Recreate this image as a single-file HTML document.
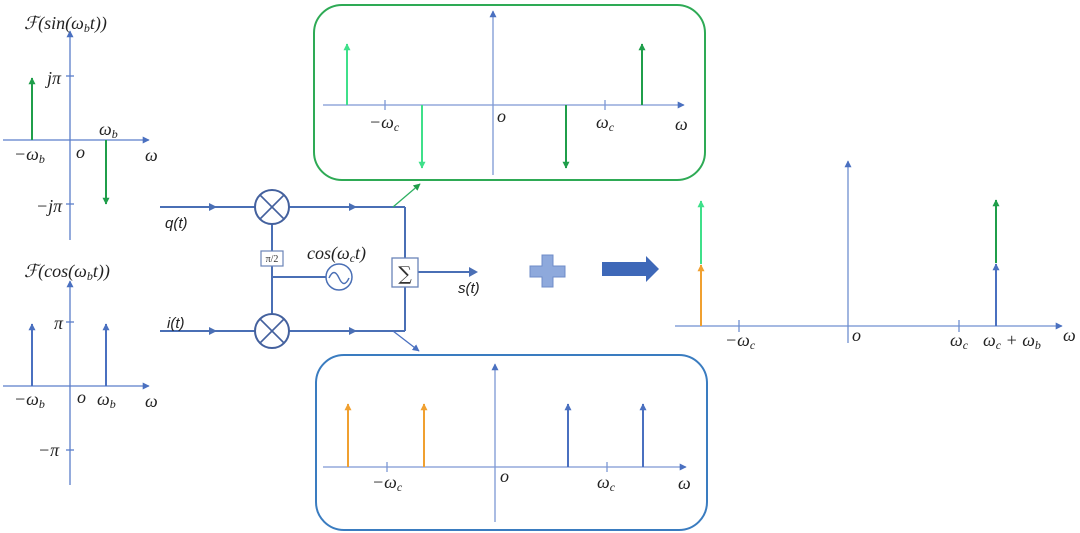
<!DOCTYPE html>
<html><head><meta charset="utf-8"><style>
html,body{margin:0;padding:0;background:#fff;}
svg{display:block;}
.m{font-family:"Liberation Serif","DejaVu Serif",serif;font-style:italic;font-size:18px;fill:#222;}
.s{font-family:"Liberation Sans","DejaVu Sans",sans-serif;font-style:italic;font-size:15px;fill:#222;}
.sub{font-size:12px;}
</style></head><body>
<svg width="1080" height="533" viewBox="0 0 1080 533" xmlns="http://www.w3.org/2000/svg">
<defs>
<marker id="ab" viewBox="0 0 10 10" refX="9" refY="5" markerWidth="7" markerHeight="7" markerUnits="userSpaceOnUse" orient="auto"><path d="M0,0L10,5L0,10z" fill="#4a70c0"/></marker>
<marker id="ag" viewBox="0 0 10 10" refX="9" refY="5" markerWidth="7" markerHeight="7" markerUnits="userSpaceOnUse" orient="auto"><path d="M0,0L10,5L0,10z" fill="#1f9e4a"/></marker>
<marker id="alg" viewBox="0 0 10 10" refX="9" refY="5" markerWidth="7" markerHeight="7" markerUnits="userSpaceOnUse" orient="auto"><path d="M0,0L10,5L0,10z" fill="#3fe08a"/></marker>
<marker id="ao" viewBox="0 0 10 10" refX="9" refY="5" markerWidth="7" markerHeight="7" markerUnits="userSpaceOnUse" orient="auto"><path d="M0,0L10,5L0,10z" fill="#f0a030"/></marker>
</defs>

<!-- Left top plot -->
<g stroke="#5b7ec9" stroke-width="1.3" fill="none">
<line x1="70" y1="240" x2="70" y2="31" marker-end="url(#ab)"/>
<line x1="3" y1="140" x2="149" y2="140" marker-end="url(#ab)"/>
<line x1="66" y1="76" x2="74" y2="76"/>
<line x1="66" y1="204" x2="74" y2="204"/>
</g>
<g stroke="#1f9e4a" stroke-width="2">
<line x1="32" y1="140" x2="32" y2="78" marker-end="url(#ag)"/>
<line x1="106" y1="140" x2="106" y2="204" marker-end="url(#ag)"/>
</g>
<text class="m" x="24" y="29">ℱ(sin(ω<tspan class="sub" dy="3">b</tspan><tspan dy="-3">t))</tspan></text>
<text class="m" x="47" y="84">jπ</text>
<text class="m" x="99" y="135">ω<tspan class="sub" dy="3">b</tspan></text>
<text class="m" x="14" y="160">−ω<tspan class="sub" dy="3">b</tspan></text>
<text class="m" x="76" y="158">o</text>
<text class="m" x="145" y="161">ω</text>
<text class="m" x="36" y="212">−jπ</text>

<!-- Left bottom plot -->
<g stroke="#5b7ec9" stroke-width="1.3" fill="none">
<line x1="70" y1="485" x2="70" y2="281" marker-end="url(#ab)"/>
<line x1="3" y1="386" x2="149" y2="386" marker-end="url(#ab)"/>
<line x1="66" y1="322" x2="74" y2="322"/>
<line x1="66" y1="450" x2="74" y2="450"/>
</g>
<g stroke="#4a70c0" stroke-width="2">
<line x1="32" y1="386" x2="32" y2="324" marker-end="url(#ab)"/>
<line x1="106" y1="386" x2="106" y2="324" marker-end="url(#ab)"/>
</g>
<text class="m" x="24" y="277">ℱ(cos(ω<tspan class="sub" dy="3">b</tspan><tspan dy="-3">t))</tspan></text>
<text class="m" x="54" y="329">π</text>
<text class="m" x="14" y="405">−ω<tspan class="sub" dy="3">b</tspan></text>
<text class="m" x="77" y="403">o</text>
<text class="m" x="97" y="405">ω<tspan class="sub" dy="3">b</tspan></text>
<text class="m" x="145" y="407">ω</text>
<text class="m" x="38" y="456">−π</text>

<!-- Block diagram -->
<g stroke="#4a6fb5" stroke-width="2" fill="none">
<line x1="160" y1="207" x2="255" y2="207"/>
<line x1="289" y1="207" x2="405" y2="207"/>
<line x1="405" y1="207" x2="405" y2="258"/>
<line x1="405" y1="287" x2="405" y2="331"/>
<line x1="160" y1="331" x2="255" y2="331"/>
<line x1="289" y1="331" x2="405" y2="331"/>
<line x1="272" y1="224" x2="272" y2="251"/>
<line x1="272" y1="266" x2="272" y2="314"/>
<line x1="272" y1="277" x2="326" y2="277"/>
<circle cx="272" cy="207" r="17" stroke="#44619e"/>
<line x1="260" y1="195" x2="284" y2="219" stroke="#44619e" stroke-width="1.6"/>
<line x1="284" y1="195" x2="260" y2="219" stroke="#44619e" stroke-width="1.6"/>
<circle cx="272" cy="331" r="17" stroke="#44619e"/>
<line x1="260" y1="319" x2="284" y2="343" stroke="#44619e" stroke-width="1.6"/>
<line x1="284" y1="319" x2="260" y2="343" stroke="#44619e" stroke-width="1.6"/>
<circle cx="339" cy="277" r="13" stroke-width="1.5"/>
<path d="M329,278 q5,-11 10,0 t10,0" stroke-width="1.5"/>
<line x1="418" y1="272" x2="472" y2="272"/>
</g>
<rect x="261" y="251" width="22" height="15" fill="#fff" stroke="#6a84b8" stroke-width="1.2"/>
<text x="272" y="262" text-anchor="middle" font-family="Liberation Serif,serif" font-size="10" fill="#333">π/2</text>
<rect x="392" y="258" width="26" height="29" fill="#fff" stroke="#6a84b8" stroke-width="1.3"/>
<text x="405" y="280" text-anchor="middle" font-family="DejaVu Serif,Liberation Serif,serif" font-size="19" fill="#333">∑</text>
<g fill="#4a6fb5">
<path d="M209,203L217,207L209,211z"/>
<path d="M349,203L357,207L349,211z"/>
<path d="M209,327L217,331L209,335z"/>
<path d="M349,327L357,331L349,335z"/>
<path d="M469,267L478,272L469,277z"/>
</g>
<line x1="393" y1="207" x2="420" y2="184" stroke="#2eb062" stroke-width="1.3" marker-end="url(#ag)"/>
<line x1="393" y1="331" x2="419" y2="351" stroke="#4a70c0" stroke-width="1.3" marker-end="url(#ab)"/>
<text class="s" x="165" y="228">q(t)</text>
<text class="s" x="167" y="328">i(t)</text>
<text class="s" x="458" y="293">s(t)</text>
<text class="m" x="307" y="259">cos(ω<tspan class="sub" dy="3">c</tspan><tspan dy="-3">t)</tspan></text>

<!-- Top green box -->
<rect x="314" y="5" width="391" height="175" rx="28" fill="none" stroke="#2eaa55" stroke-width="2"/>
<g stroke="#7d98d4" stroke-width="1.3" fill="none">
<line x1="493" y1="175" x2="493" y2="11" marker-end="url(#ab)"/>
<line x1="323" y1="105" x2="684" y2="105" marker-end="url(#ab)"/>
<line x1="385" y1="100" x2="385" y2="110"/>
<line x1="605" y1="100" x2="605" y2="110"/>
</g>
<g stroke-width="2">
<line x1="347" y1="105" x2="347" y2="44" stroke="#3fe08a" marker-end="url(#alg)"/>
<line x1="422" y1="105" x2="422" y2="168" stroke="#3fe08a" marker-end="url(#alg)"/>
<line x1="566" y1="105" x2="566" y2="168" stroke="#1f9e4a" marker-end="url(#ag)"/>
<line x1="642" y1="105" x2="642" y2="44" stroke="#1f9e4a" marker-end="url(#ag)"/>
</g>
<text class="m" x="369" y="128">−ω<tspan class="sub" dy="3">c</tspan></text>
<text class="m" x="497" y="122">o</text>
<text class="m" x="596" y="128">ω<tspan class="sub" dy="3">c</tspan></text>
<text class="m" x="675" y="130">ω</text>

<!-- Bottom blue box -->
<rect x="316" y="355" width="391" height="175" rx="28" fill="none" stroke="#3a7cc0" stroke-width="2"/>
<g stroke="#7d98d4" stroke-width="1.3" fill="none">
<line x1="495" y1="522" x2="495" y2="364" marker-end="url(#ab)"/>
<line x1="323" y1="467" x2="686" y2="467" marker-end="url(#ab)"/>
<line x1="387" y1="462" x2="387" y2="472"/>
<line x1="607" y1="462" x2="607" y2="472"/>
</g>
<g stroke-width="2">
<line x1="348" y1="467" x2="348" y2="404" stroke="#f0a030" marker-end="url(#ao)"/>
<line x1="424" y1="467" x2="424" y2="404" stroke="#f0a030" marker-end="url(#ao)"/>
<line x1="568" y1="467" x2="568" y2="404" stroke="#4a70c0" marker-end="url(#ab)"/>
<line x1="643" y1="467" x2="643" y2="404" stroke="#4a70c0" marker-end="url(#ab)"/>
</g>
<text class="m" x="372" y="488">−ω<tspan class="sub" dy="3">c</tspan></text>
<text class="m" x="500" y="482">o</text>
<text class="m" x="597" y="488">ω<tspan class="sub" dy="3">c</tspan></text>
<text class="m" x="678" y="489">ω</text>

<!-- Plus sign -->
<path d="M542,255h11v11h12v11h-12v10h-11v-10h-12v-11h12z" fill="#8ea9dc" stroke="#6f8cc8" stroke-width="1"/>
<!-- Big arrow -->
<path d="M602,262h44v-6l13,13l-13,13v-6h-44z" fill="#3e68b8"/>

<!-- Right plot -->
<g stroke="#6f8fd0" stroke-width="1.3" fill="none">
<line x1="675" y1="326" x2="1062" y2="326" marker-end="url(#ab)"/>
<line x1="848" y1="343" x2="848" y2="161" marker-end="url(#ab)"/>
<line x1="739" y1="320" x2="739" y2="332"/>
<line x1="959" y1="320" x2="959" y2="332"/>
</g>
<g stroke-width="2">
<line x1="701" y1="326" x2="701" y2="265" stroke="#f0a030" marker-end="url(#ao)"/>
<line x1="701" y1="264" x2="701" y2="201" stroke="#3fe08a" marker-end="url(#alg)"/>
<line x1="996" y1="326" x2="996" y2="264" stroke="#4a70c0" marker-end="url(#ab)"/>
<line x1="996" y1="263" x2="996" y2="200" stroke="#1f9e4a" marker-end="url(#ag)"/>
</g>
<text class="m" x="725" y="346">−ω<tspan class="sub" dy="3">c</tspan></text>
<text class="m" x="852" y="341">o</text>
<text class="m" x="950" y="346">ω<tspan class="sub" dy="3">c</tspan></text>
<text class="m" x="983" y="346">ω<tspan class="sub" dy="3">c</tspan><tspan dy="-3"> + ω</tspan><tspan class="sub" dy="3">b</tspan></text>
<text class="m" x="1063" y="341">ω</text>
</svg>
</body></html>
